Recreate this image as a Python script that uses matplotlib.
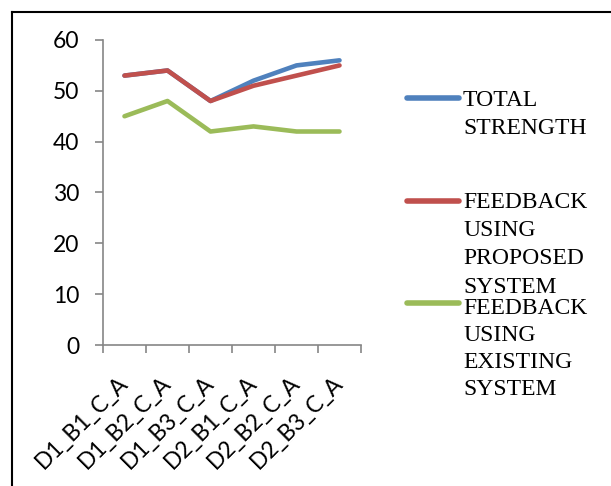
import matplotlib
matplotlib.use("Agg")
import matplotlib.pyplot as plt
from matplotlib.lines import Line2D

categories = ["D1_B1_C_A", "D1_B2_C_A", "D1_B3_C_A", "D2_B1_C_A", "D2_B2_C_A", "D2_B3_C_A"]
total_strength = [53, 54, 48, 52, 55, 56]
feedback_proposed = [53, 54, 48, 51, 53, 55]
feedback_existing = [45, 48, 42, 43, 42, 42]
series_names = ["TOTAL\nSTRENGTH", "FEEDBACK\nUSING\nPROPOSED\nSYSTEM", "FEEDBACK\nUSING\nEXISTING\nSYSTEM"]
colors = ["#4F81BD", "#C0504D", "#9BBB59"]
y_ticks = [0, 10, 20, 30, 40, 50, 60]

W, H = 611, 486
fig = plt.figure(figsize=(W / 100, H / 100), dpi=100)

def fx(px):
    return px / W

def fy(py):
    return 1 - py / H

# outer frame (top and left visible)
fig.add_artist(Line2D([fx(12), fx(12)], [0, fy(12)], color="black", lw=1.5))
fig.add_artist(Line2D([fx(12), 1], [fy(12), fy(12)], color="black", lw=1.5))

ax = fig.add_axes([fx(103), fy(345), fx(361) - fx(103), fy(40) - fy(345)])
x = list(range(len(categories)))
for vals, c in zip([total_strength, feedback_proposed, feedback_existing], colors):
    ax.plot(x, vals, color=c, lw=3.3, solid_capstyle="round", solid_joinstyle="round")

ax.set_xlim(-0.5, len(categories) - 0.5)
ax.set_ylim(0, 60)
ax.set_yticks(y_ticks)
ax.set_yticklabels([str(v) for v in y_ticks], fontsize=16.5, family="Lato")
for s in ["top", "right"]:
    ax.spines[s].set_visible(False)
for s in ["left", "bottom"]:
    ax.spines[s].set_color("#868686")
    ax.spines[s].set_linewidth(1.2)
ax.tick_params(axis="y", length=6, width=1.2, color="#868686", pad=11)

ax.set_xticks(x)
ax.set_xticklabels(categories, fontsize=16.5, family="Lato", rotation=45,
                   ha="right", va="center", rotation_mode="anchor")
ax.tick_params(axis="x", which="major", length=0, pad=25)
ax.set_xticks([i - 0.5 for i in range(len(categories) + 1)], minor=True)
ax.tick_params(axis="x", which="minor", length=6, width=1.2, color="#868686")

# legend
handle_y = [98, 201, 303]
text_top = [90, 192, 298]
spacing = [1.45, 1.45, 1.38]
for name, c, hy, ty, ls in zip(series_names, colors, handle_y, text_top, spacing):
    fig.add_artist(Line2D([fx(407), fx(459)], [fy(hy), fy(hy)], color=c, lw=4,
                          solid_capstyle="round"))
    fig.text(fx(463), fy(ty), name, family="Liberation Serif", fontsize=17,
             va="top", ha="left", linespacing=ls)

fig.savefig("out.png", dpi=100)
